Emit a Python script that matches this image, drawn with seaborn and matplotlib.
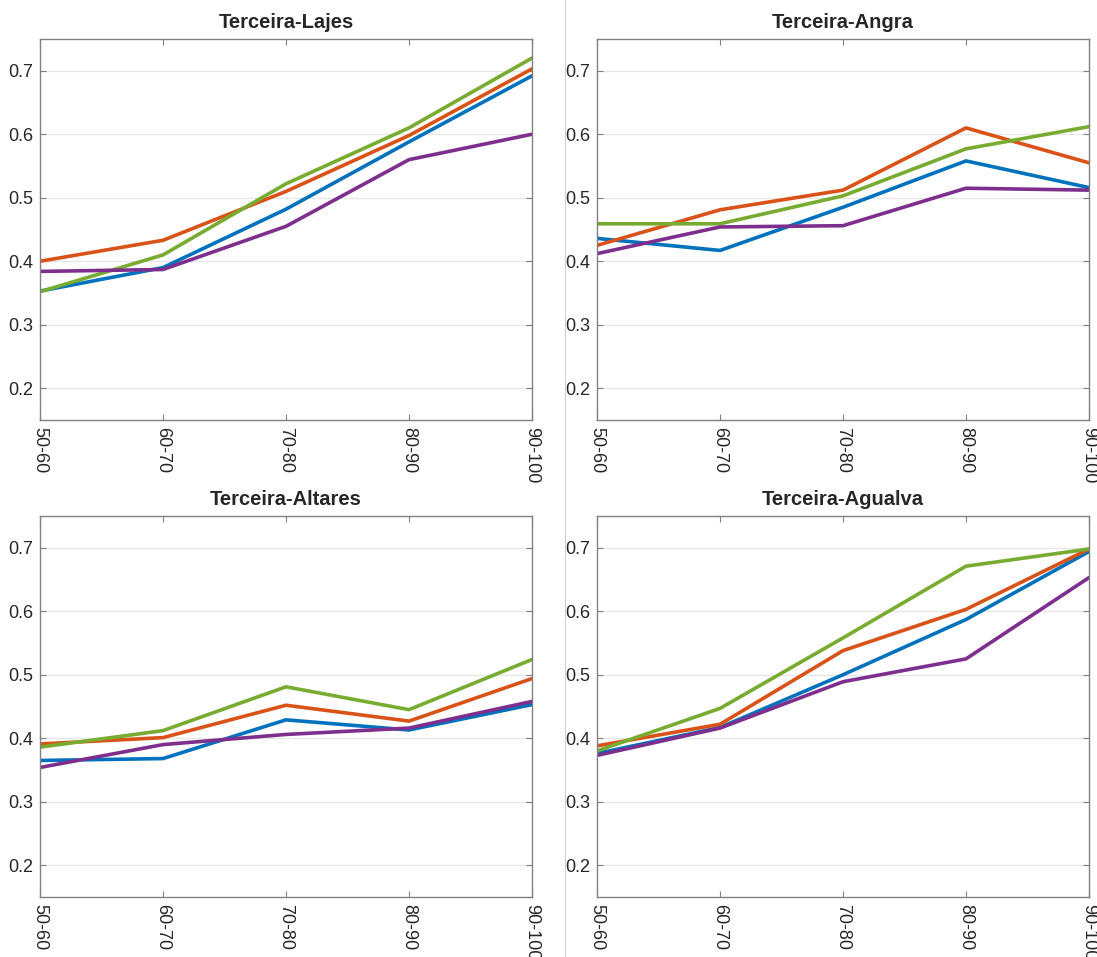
import seaborn as sns
import matplotlib.pyplot as plt
import pandas as pd

## categories and series
bins = ['50-60', '60-70', '70-80', '80-90', '90-100']
series_names = ['s1', 's2', 's3', 's4']

lajes_blue = [0.353, 0.390, 0.482, 0.588, 0.692]
lajes_orange = [0.400, 0.433, 0.510, 0.598, 0.703]
lajes_green = [0.352, 0.410, 0.522, 0.610, 0.720]
lajes_purple = [0.384, 0.387, 0.455, 0.560, 0.600]

angra_blue = [0.436, 0.417, 0.485, 0.558, 0.516]
angra_orange = [0.425, 0.481, 0.512, 0.610, 0.555]
angra_green = [0.459, 0.459, 0.503, 0.577, 0.612]
angra_purple = [0.412, 0.454, 0.456, 0.515, 0.512]

altares_blue = [0.365, 0.368, 0.429, 0.413, 0.453]
altares_orange = [0.391, 0.401, 0.452, 0.427, 0.494]
altares_green = [0.386, 0.412, 0.481, 0.445, 0.524]
altares_purple = [0.354, 0.390, 0.406, 0.416, 0.458]

agualva_blue = [0.376, 0.417, 0.500, 0.587, 0.694]
agualva_orange = [0.388, 0.422, 0.538, 0.603, 0.698]
agualva_green = [0.380, 0.447, 0.558, 0.671, 0.698]
agualva_purple = [0.373, 0.416, 0.489, 0.525, 0.653]

panels = {
    'Terceira-Lajes': [lajes_blue, lajes_orange, lajes_green, lajes_purple],
    'Terceira-Angra': [angra_blue, angra_orange, angra_green, angra_purple],
    'Terceira-Altares': [altares_blue, altares_orange, altares_green, altares_purple],
    'Terceira-Agualva': [agualva_blue, agualva_orange, agualva_green, agualva_purple],
}

## matlab default line colours
palette = ['#0072BD', '#D95319', '#77AC30', '#7E2F8E']

sns.set_style('white')
plt.rcParams['font.family'] = ['Liberation Sans', 'DejaVu Sans']

fig = plt.figure(figsize=(10.97, 9.57), dpi=100)
W, H = 1097, 957
## axes boxes in pixels: left, top, right, bottom
boxes = [(40, 39, 532, 420), (597, 39, 1089, 420),
         (40, 516, 532, 897), (597, 516, 1089, 897)]

for (title, vals), (l, t, r, b) in zip(panels.items(), boxes):
    ax = fig.add_axes([l / W, 1 - b / H, (r - l) / W, (b - t) / H])
    rows = []
    for name, v in zip(series_names, vals):
        for i, y in enumerate(v):
            rows.append({'x': i, 'y': y, 'series': name})
    df = pd.DataFrame(rows)
    sns.lineplot(data=df, x='x', y='y', hue='series', palette=palette,
                 linewidth=2.6, legend=False, ax=ax)
    ax.set_xlim(0, 4)
    ax.set_ylim(0.15, 0.75)
    ax.set_yticks([0.2, 0.3, 0.4, 0.5, 0.6, 0.7])
    ax.set_yticklabels(['0.2', '0.3', '0.4', '0.5', '0.6', '0.7'])
    ax.set_xticks(range(5))
    ax.set_xticklabels(bins, rotation=270, va='top', ha='center')
    ax.set_xlabel('')
    ax.set_ylabel('')
    ax.grid(axis='y', color='#e6e6e6', linewidth=0.9)
    ax.set_axisbelow(True)
    for sp in ax.spines.values():
        sp.set_color('#808080')
        sp.set_linewidth(1.0)
    ax.tick_params(axis='both', direction='in', length=4, color='#808080',
                   labelsize=13, labelcolor='#262626', top=True, right=True,
                   bottom=True, left=True, pad=5)
    ax.set_title(title, fontsize=14.5, fontweight='bold', pad=8)

## thin separator between the two columns
fig.add_artist(plt.Line2D([565 / W, 565 / W], [0, 1], color='#cfcfcf', linewidth=0.8))

fig.savefig('out.png', dpi=100)
